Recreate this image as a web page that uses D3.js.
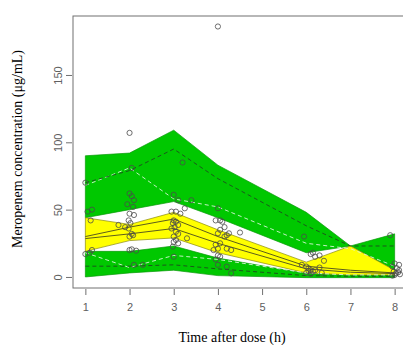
<!DOCTYPE html>
<html>
<head>
<meta charset="utf-8">
<script src="https://cdn.jsdelivr.net/npm/d3@7"></script>
<style>
  body { margin: 0; background: #fff; }
  svg { display: block; }
</style>
</head>
<body>
<figure id="vpc" style="margin:0"></figure>
<script>
// bin times of the VPC
const binTimes = [1, 2, 3, 4, 6, 7, 8];

// 95% CI of the simulated 95th percentile (upper green)
const upperHi = [90, 92, 109, 83, 48, 23, 32];
const upperLo = [44, 50, 56, 44, 18, 23, 5];
// 95% CI of the simulated median (yellow)
const medHi = [44, 39, 48, 35, 11, 23, 5];
const medLo = [19, 27, 29, 18, 3, 1.5, 1.5];
// 95% CI of the simulated 5th percentile (lower green)
const lowerHi = [19, 19, 23, 14, 2.5, 1.5, 1.5];
const lowerLo = [0, 3, 5, 1, -0.5, -0.5, -0.5];

// percentile lines
const obs95 = [70, 79, 95, 73, 38, 23, 23];
const sim95 = [68, 81, 58, 52, 25, 21, 8];
const medA = [30, 37, 43, 30, 8, 5, 3];
const medB = [28.5, 32, 36, 25, 6, 3.5, 2.5];
const obs5 = [8, 8, 9, 6, 1, 0.5, 0.5];
const sim5 = [18, 7, 16, 13, 3, 1.5, 1.5];

// observed concentrations
const ptTime = [
  1.0, 1.05, 1.15, 1.12, 1.0, 1.1, 1.15,
  2.0, 2.05, 2.0, 2.05, 2.1, 1.95, 2.08, 2.0, 2.1, 1.98, 2.02, 1.75, 1.9, 1.98, 2.05, 2.0, 2.08, 2.0, 2.05, 2.15, 2.1, 2.3,
  3.0, 3.1, 3.4, 3.2, 2.95, 3.05, 3.15, 3.25, 3.0, 3.05, 2.98, 3.1, 3.02, 2.95, 3.05, 3.1, 3.0, 3.3, 3.05, 3.0, 3.1, 2.98, 3.0,
  4.0, 4.0, 3.95, 4.05, 4.1, 4.15, 4.05, 4.0, 4.2, 4.25, 4.15, 4.5, 3.95, 4.05, 4.0, 3.9, 4.2, 4.3, 4.0, 4.05, 3.95, 4.0, 4.2, 4.3,
  5.95, 6.1, 6.15, 6.2, 6.3, 6.4, 5.9, 6.0, 6.05, 6.1, 6.15, 6.2, 6.3, 6.35, 6.0, 6.1, 6.05,
  7.9, 8.0, 8.1, 7.95, 8.05, 8.1, 7.98, 8.03, 8.12, 8.0, 7.95, 8.08
];
const ptConc = [
  70, 48.5, 50, 42, 17, 18, 20,
  107, 81, 62, 60, 57, 54, 52, 47, 46, 42, 40, 38.6, 37, 36, 32, 30, 31, 20, 20.5, 19.5, 9, 9,
  61, 57, 57, 85, 48.5, 48.5, 47, 51, 42, 41, 40, 38.6, 37, 36, 33.6, 32, 30, 28.7, 27.5, 26, 25, 22.5, 15,
  186, 51, 42, 42, 41, 37, 35, 32.4, 31, 32.4, 30, 33, 24, 25, 21, 20, 21, 20, 16, 15, 13, 9, 7.7, 2.7,
  30, 17, 18, 15, 16, 12, 9, 7.7, 6.5, 5, 4, 5, 7, 3, 3, 2.5, 4.5,
  31, 10, 9, 7.7, 6.5, 5, 4, 2.7, 2, 1.5, 1, 3.5
];

const xTicks = [1, 2, 3, 4, 5, 6, 7, 8];
const yTicks = [0, 50, 100, 150];

const width = 403, height = 345;
const plot = { left: 73, top: 16, right: 407, bottom: 288 };

const svg = d3.select("figure#vpc")
  .append("svg")
  .attr("width", width)
  .attr("height", height);

const x = d3.scaleLinear().domain([0.72, 8.28]).range([plot.left, plot.right]);
const y = d3.scaleLinear().domain([-8.2, 193.8]).range([plot.bottom, plot.top]);

const g = svg.append("g");

// shaded bands
function band(hi, lo, fill, stroke) {
  const pts = binTimes.map((t, i) => ({ t: t, hi: hi[i], lo: lo[i] }));
  const area = d3.area()
    .x(d => x(d.t))
    .y0(d => y(d.lo))
    .y1(d => y(d.hi));
  g.append("path")
    .attr("d", area(pts))
    .attr("fill", fill)
    .attr("stroke", stroke)
    .attr("stroke-width", 0.7);
}
band(upperHi, upperLo, "#00c800", "#0a9a0a");
band(lowerHi, lowerLo, "#00c800", "#0a9a0a");
band(medHi, medLo, "#ffff00", "#8a8a10");

// percentile lines
function pline(vals, color, dash, w) {
  const line = d3.line()
    .x((d, i) => x(binTimes[i]))
    .y(d => y(d));
  g.append("path")
    .attr("d", line(vals))
    .attr("fill", "none")
    .attr("stroke", color)
    .attr("stroke-width", w)
    .attr("stroke-dasharray", dash);
}
pline(sim95, "#d8f5d8", "4,3", 0.9);
pline(sim5, "#d8f5d8", "4,3", 0.9);
pline(obs95, "#1f4a1f", "4,3", 0.9);
pline(obs5, "#1f4a1f", "4,3", 0.9);
pline(medA, "#4a4a20", null, 0.9);
pline(medB, "#4a4a20", null, 0.9);

// observations
g.selectAll("circle.obs")
  .data(ptTime.map((t, i) => [t, ptConc[i]]))
  .enter()
  .append("circle")
  .attr("class", "obs")
  .attr("cx", d => x(d[0]))
  .attr("cy", d => y(d[1]))
  .attr("r", 2.6)
  .attr("fill", "none")
  .attr("stroke", "#4a4a4a")
  .attr("stroke-width", 0.8);

// frame
svg.append("rect")
  .attr("x", plot.left)
  .attr("y", plot.top)
  .attr("width", plot.right - plot.left)
  .attr("height", plot.bottom - plot.top)
  .attr("fill", "none")
  .attr("stroke", "#707070")
  .attr("stroke-width", 1);

// axes
const xAxis = svg.append("g")
  .attr("transform", "translate(0," + (plot.bottom + 1) + ")")
  .call(d3.axisBottom(x).tickValues(xTicks).tickSize(6).tickPadding(8).tickFormat(d3.format("d")));
const yAxis = svg.append("g")
  .attr("transform", "translate(" + (plot.left - 1) + ",0)")
  .call(d3.axisLeft(y).tickValues(yTicks).tickSize(6).tickFormat(d3.format("d")));

[xAxis, yAxis].forEach(a => {
  a.select(".domain").remove();
  a.selectAll("line").attr("stroke", "#707070");
  a.selectAll("text")
    .attr("fill", "#606060")
    .style("font-family", "'Liberation Sans', Arial, sans-serif")
    .style("font-size", "11px");
});
yAxis.selectAll("text")
  .attr("x", null)
  .attr("dy", null)
  .attr("text-anchor", "middle")
  .attr("transform", "translate(-14,0) rotate(-90)")
  .attr("dy", "0.35em");

// titles
svg.append("text")
  .attr("x", 232)
  .attr("y", 342)
  .attr("text-anchor", "middle")
  .style("font-family", "'Liberation Serif', 'Times New Roman', serif")
  .style("font-size", "14px")
  .text("Time after dose (h)");

svg.append("text")
  .attr("transform", "translate(22,149) rotate(-90)")
  .attr("text-anchor", "middle")
  .style("font-family", "'Liberation Serif', 'Times New Roman', serif")
  .style("font-size", "14px")
  .text("Meropenem concentration (μg/mL)");
</script>
</body>
</html>
